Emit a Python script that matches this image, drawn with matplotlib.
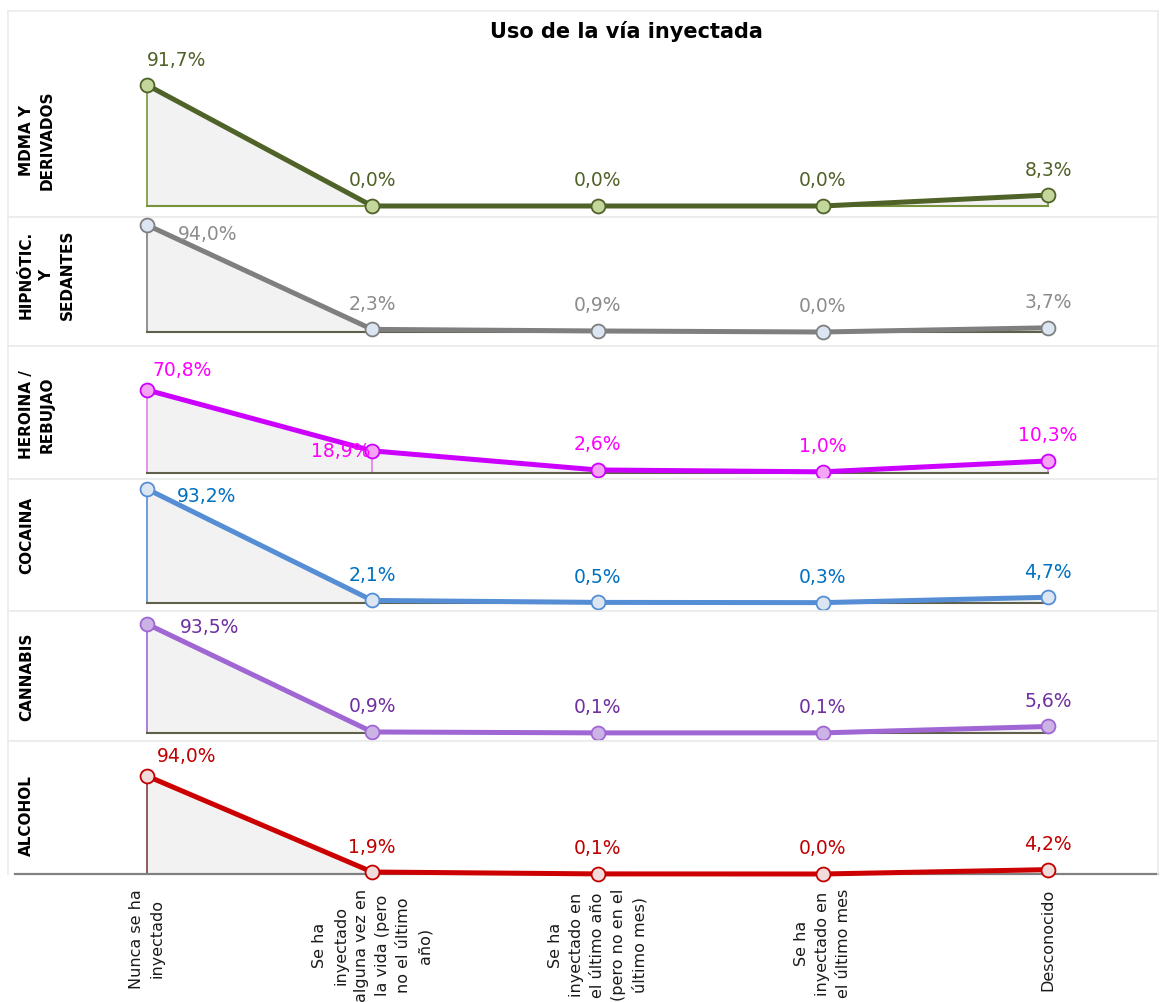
import matplotlib
matplotlib.use("Agg")
import matplotlib.pyplot as plt

# ---------------- data ----------------
title = "Uso de la vía inyectada"
categories = [
    "Nunca se ha\ninyectado",
    "Se ha\ninyectado\nalguna vez en\nla vida (pero\nno el último\naño)",
    "Se ha\ninyectado en\nel último año\n(pero no en el\núltimo mes)",
    "Se ha\ninyectado en\nel último mes",
    "Desconocido",
]
substances = ["MDMA Y\nDERIVADOS", "HIPNÓTIC.\nY\nSEDANTES", "HEROINA /\nREBUJAO",
              "COCAINA", "CANNABIS", "ALCOHOL"]
mdma = [91.7, 0.0, 0.0, 0.0, 8.3]
hipnoticos = [94.0, 2.3, 0.9, 0.0, 3.7]
heroina = [70.8, 18.9, 2.6, 1.0, 10.3]
cocaina = [93.2, 2.1, 0.5, 0.3, 4.7]
cannabis = [93.5, 0.9, 0.1, 0.1, 5.6]
alcohol = [94.0, 1.9, 0.1, 0.0, 4.2]
series = [mdma, hipnoticos, heroina, cocaina, cannabis, alcohol]

# ---------------- styles ----------------
line_colors = ["#4f6228", "#7f7f7f", "#cc00ff", "#558ed5", "#a066d3", "#cc0000"]
face_colors = ["#c3d69b", "#dce6f2", "#f5a3f5", "#dce6f2", "#ccb3e6", "#f2dcdb"]
edge_colors = ["#4f6228", "#7f7f7f", "#cc00ff", "#558ed5", "#a066d3", "#c00000"]
label_colors = ["#4f6228", "#8c8c8c", "#ff00ff", "#0070c0", "#7030a0", "#c00000"]
drop_colors = ["#77933c", "#7f7f7f", "#e080e8", "#558ed5", "#a066d3", "#7f3f3f"]
base_colors = ["#77933c", "#5f5f4a", "#5f5f4a", "#5f5f4a", "#5f5f4a", "#808080"]

W, H = 1160, 1003
fig = plt.figure(figsize=(W / 100, H / 100), dpi=100)

# panel layout in pixels: (frame_top, frame_bottom, baseline, px per percent)
panels = [
    (12, 218, 207, 121 / 91.7),
    (218, 347, 333, 107 / 94.0),
    (347, 480, 474, 83 / 70.8),
    (480, 612, 604, 114 / 93.2),
    (612, 742, 734, 109 / 93.5),
    (742, 875, 875, 98 / 94.0),
]
row_label_y = [140, 275, 415, 535, 677, 816]
x0_px, dx_px = 147, 225.25
left_px, right_px = 8, 1158
xlim = ((left_px - x0_px) / dx_px, (right_px - x0_px) / dx_px)

# label offsets in pixels (dx, dy up) ; default centred above
default_off = (0, 26)
special_off = {
    (0, 0): (30, 26),
    (1, 0): (61, -8),
    (2, 0): (35, 21),
    (2, 1): (-32, 0),
    (3, 0): (60, -7),
    (4, 0): (63, -3),
    (5, 0): (40, 20),
}

xs = list(range(len(categories)))

for i, vals in enumerate(series):
    top, bot, base, s = panels[i]
    ax = fig.add_axes([left_px / W, 1 - bot / H, (right_px - left_px) / W, (bot - top) / H])
    ax.set_xlim(*xlim)
    ax.set_ylim(-(bot - base) / s, (base - top) / s)
    for sp in ax.spines.values():
        sp.set_color("#ebebeb")
        sp.set_linewidth(1.2)
    ax.set_yticks([])

    ax.fill_between(xs, 0, vals, color="#f2f2f2", zorder=1, linewidth=0)
    ax.vlines(xs, 0, vals, color=drop_colors[i], linewidth=1.2, zorder=2)
    if i < 5:
        ax.plot([0, 4], [0, 0], color=base_colors[i], linewidth=1.5, zorder=2)
        ax.set_xticks([])
    else:
        ax.spines["bottom"].set_visible(False)
        ax.axhline(0, xmin=(15 - left_px) / (right_px - left_px), xmax=1,
                   color=base_colors[i], linewidth=1.6, zorder=2, clip_on=False)
        ax.set_xticks(xs)
        ax.set_xticklabels(categories, rotation=90, ha="center", va="top",
                           multialignment="center", fontsize=11.5, color="#1a1a1a",
                           linespacing=1.5)
        ax.tick_params(axis="x", length=0, pad=10)

    ax.plot(xs, vals, color=line_colors[i], linewidth=3.6, zorder=3,
            solid_capstyle="round", clip_on=False)
    ax.plot(xs, vals, linestyle="none", marker="o", markersize=10,
            markerfacecolor=face_colors[i], markeredgecolor=edge_colors[i],
            markeredgewidth=1.3, zorder=4, clip_on=False)

    for j, v in enumerate(vals):
        ox, oy = special_off.get((i, j), default_off)
        ax.annotate(f"{v:.1f}%".replace(".", ","), (j, v), xytext=(ox, oy),
                    textcoords="offset pixels", ha="center", va="center",
                    fontsize=13.5, color=label_colors[i], zorder=5,
                    annotation_clip=False)

    # row label
    fig.text(19 / W, 1 - row_label_y[i] / H, substances[i], rotation=90,
             ha="left", va="center", multialignment="center", linespacing=1.45,
             fontsize=11, fontweight="bold", color="#000000")

fig.text(626 / W, 1 - 31 / H, title, ha="center", va="center",
         fontsize=15, fontweight="bold")

fig.savefig("out.png", dpi=100, facecolor="white")
